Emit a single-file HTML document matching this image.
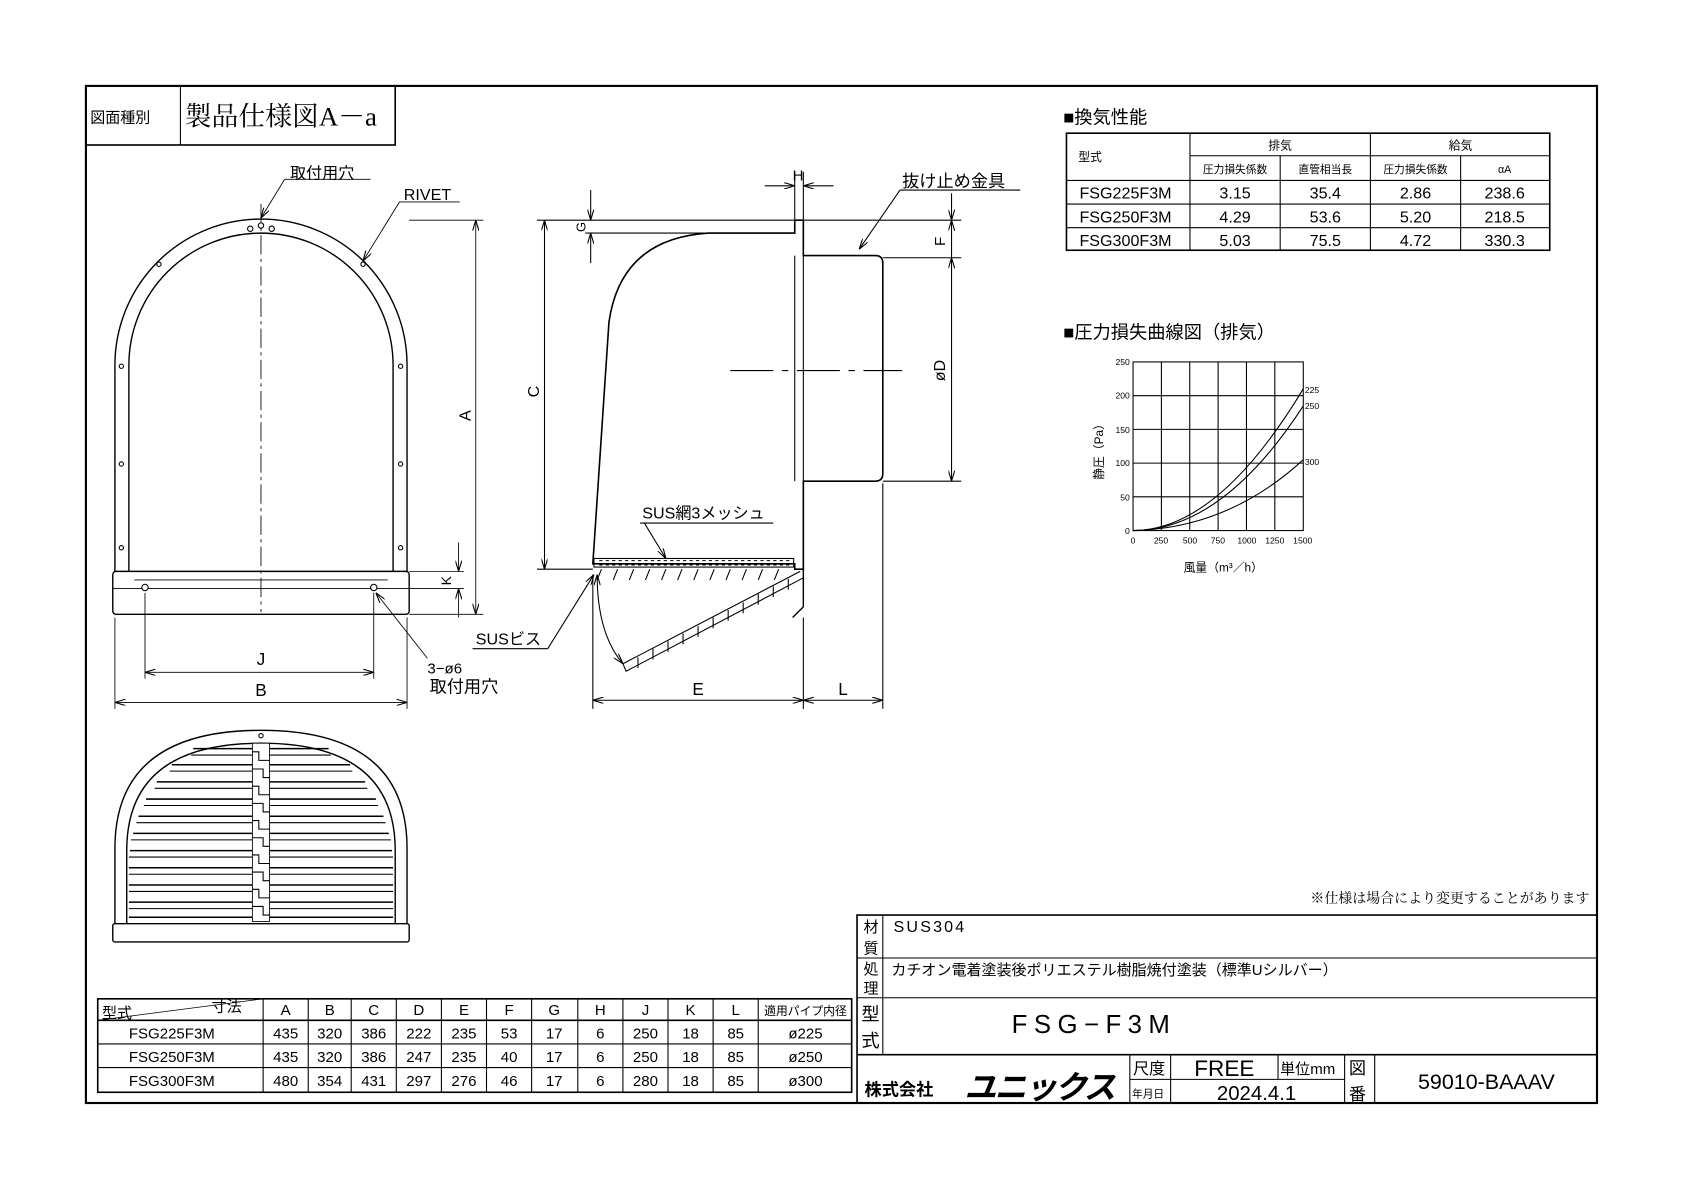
<!DOCTYPE html>
<html><head><meta charset="utf-8"><style>
html,body{margin:0;padding:0;background:#fff;}
svg{display:block;}
text{font-family:"Liberation Sans","Noto Sans CJK JP",sans-serif;fill:#000;}
.s{font-family:"Liberation Serif","Noto Serif CJK SC",serif;}
</style></head><body>
<svg width="1684" height="1190" viewBox="0 0 1568 1108" preserveAspectRatio="none" xmlns="http://www.w3.org/2000/svg">
<defs>
<marker id="ar" viewBox="0 0 10 6" refX="10" refY="3" markerWidth="10" markerHeight="6" orient="auto-start-reverse" markerUnits="userSpaceOnUse"><path d="M0,0 L10,3 L0,6" fill="none" stroke="#000" stroke-width="1"/></marker>
</defs>
<g fill="none" stroke="#000" stroke-width="1">
<rect x="80" y="80" width="1407" height="947" stroke-width="2"/>
<rect x="80" y="80" width="288" height="55" stroke-width="1.5"/>
<line x1="168" y1="80" x2="168" y2="135"/>
</g>
<text x="84" y="114" font-size="14">図面種別</text>
<text x="172" y="117" font-size="25" class="s">製品仕様図A－a</text>

<text x="990" y="115" font-size="17">■換気性能</text>
<g fill="none" stroke="#000" stroke-width="1">
<rect x="993" y="124" width="450" height="109" stroke-width="1.5"/>
<line x1="1108" y1="124" x2="1108" y2="233"/>
<line x1="1276" y1="124" x2="1276" y2="233"/>
<line x1="1192" y1="145" x2="1192" y2="233"/>
<line x1="1360" y1="145" x2="1360" y2="233"/>
<line x1="1108" y1="145" x2="1443" y2="145"/>
<line x1="993" y1="168" x2="1443" y2="168"/>
<line x1="993" y1="190" x2="1443" y2="190"/>
<line x1="993" y1="212" x2="1443" y2="212"/>
</g>
<g font-size="11" text-anchor="middle">
<text x="1015" y="150">型式</text>
<text x="1192" y="139">排気</text><text x="1360" y="139">給気</text>
<text x="1150" y="161" font-size="10">圧力損失係数</text><text x="1234" y="161" font-size="10">直管相当長</text>
<text x="1318" y="161" font-size="10">圧力損失係数</text><text x="1401" y="161" font-size="10">αA</text>
</g>
<g font-size="15" text-anchor="middle" font-family="Liberation Mono">
<text x="1048" y="185">FSG225F3M</text><text x="1150" y="185">3.15</text><text x="1234" y="185">35.4</text><text x="1318" y="185">2.86</text><text x="1401" y="185">238.6</text>
<text x="1048" y="207">FSG250F3M</text><text x="1150" y="207">4.29</text><text x="1234" y="207">53.6</text><text x="1318" y="207">5.20</text><text x="1401" y="207">218.5</text>
<text x="1048" y="229">FSG300F3M</text><text x="1150" y="229">5.03</text><text x="1234" y="229">75.5</text><text x="1318" y="229">4.72</text><text x="1401" y="229">330.3</text>
</g>

<text x="990" y="315" font-size="17">■圧力損失曲線図（排気）</text>
<g fill="none" stroke="#000" stroke-width="1">
<rect x="1055" y="337" width="158.5" height="157"/>
<line x1="1081.4" y1="337" x2="1081.4" y2="494"/><line x1="1107.8" y1="337" x2="1107.8" y2="494"/><line x1="1134.2" y1="337" x2="1134.2" y2="494"/><line x1="1160.6" y1="337" x2="1160.6" y2="494"/><line x1="1187" y1="337" x2="1187" y2="494"/>
<line x1="1055" y1="368.4" x2="1213.5" y2="368.4"/><line x1="1055" y1="399.8" x2="1213.5" y2="399.8"/><line x1="1055" y1="431.2" x2="1213.5" y2="431.2"/><line x1="1055" y1="462.6" x2="1213.5" y2="462.6"/>
<path d="M1055,494 Q1134,494 1213.5,362"/>
<path d="M1055,494 Q1138,494 1213.5,378"/>
<path d="M1055,494 Q1144,492 1213.5,428"/>
</g>
<g font-size="8" text-anchor="end">
<text x="1052" y="340">250</text><text x="1052" y="371">200</text><text x="1052" y="403">150</text><text x="1052" y="434">100</text><text x="1052" y="466">50</text><text x="1052" y="497">0</text>
</g>
<g font-size="8" text-anchor="middle">
<text x="1055" y="506">0</text><text x="1081" y="506">250</text><text x="1108" y="506">500</text><text x="1134" y="506">750</text><text x="1161" y="506">1000</text><text x="1187" y="506">1250</text><text x="1213" y="506">1500</text>
</g>
<g font-size="8"><text x="1215" y="366">225</text><text x="1215" y="381">250</text><text x="1215" y="433">300</text></g>
<text x="1027" y="418" font-size="11" transform="rotate(-90 1027 418)" text-anchor="middle">静圧（Pa）</text>
<text x="1139" y="532" font-size="11" text-anchor="middle">風量（m³／h）</text>

<g fill="none" stroke="#000" stroke-width="1.3">
<path d="M107,532 L107,340 A136,136 0 0 1 379,340 L379,532"/>
<path d="M120,532 L120,340 A123,123 0 0 1 366,340 L366,532"/>
<rect x="105" y="532" width="276" height="40" rx="3"/>
<line x1="105" y1="548" x2="381" y2="548" stroke-width="0.8"/>
<line x1="125" y1="540" x2="361" y2="540" stroke-width="0.8"/>
</g>
<line x1="243" y1="190" x2="243" y2="570" stroke="#000" stroke-width="0.8" stroke-dasharray="18,4,3,4"/>
<g fill="#fff" stroke="#000" stroke-width="1">
<circle cx="233" cy="213" r="2.5"/><circle cx="243" cy="210" r="2.5"/><circle cx="253" cy="213" r="2.5"/>
<circle cx="148" cy="246" r="2"/><circle cx="338" cy="246" r="2"/><circle cx="113" cy="341" r="2"/><circle cx="373" cy="341" r="2"/>
<circle cx="113" cy="432" r="2"/><circle cx="373" cy="432" r="2"/><circle cx="113" cy="510" r="2"/><circle cx="373" cy="510" r="2"/>
<circle cx="135" cy="547" r="3"/><circle cx="348" cy="547" r="3"/>
</g>
<g stroke="#000" stroke-width="0.8" fill="none">
<path d="M265,167 L243,203" marker-end="url(#ar)"/><line x1="265" y1="167" x2="345" y2="167"/>
<path d="M372,188 L338,243" marker-end="url(#ar)"/><line x1="372" y1="188" x2="428" y2="188"/>
<line x1="381" y1="205" x2="450" y2="205"/><line x1="381" y1="572" x2="450" y2="572"/>
<line x1="443" y1="205" x2="443" y2="572" marker-start="url(#ar)" marker-end="url(#ar)"/>
<line x1="381" y1="532" x2="432" y2="532"/><line x1="381" y1="548" x2="432" y2="548"/>
<line x1="427" y1="505" x2="427" y2="532" marker-end="url(#ar)"/><line x1="427" y1="575" x2="427" y2="548" marker-end="url(#ar)"/>
<line x1="107" y1="575" x2="107" y2="660"/><line x1="379" y1="575" x2="379" y2="660"/>
<line x1="107" y1="654" x2="379" y2="654" marker-start="url(#ar)" marker-end="url(#ar)"/>
<line x1="135" y1="552" x2="135" y2="632"/><line x1="348" y1="552" x2="348" y2="632"/>
<line x1="135" y1="626" x2="348" y2="626" marker-start="url(#ar)" marker-end="url(#ar)"/>
<path d="M398,613 L350,552" marker-end="url(#ar)"/>
</g>
<text x="270" y="166" font-size="15">取付用穴</text>
<text x="376" y="186" font-size="15">RIVET</text>
<text x="438" y="392" font-size="15" transform="rotate(-90 438 392)">A</text>
<text x="420" y="545" font-size="13" transform="rotate(-90 420 545)">K</text>
<text x="243" y="619" font-size="16" text-anchor="middle">J</text>
<text x="243" y="648" font-size="16" text-anchor="middle">B</text>
<text x="398" y="627" font-size="14">3−ø6</text>
<text x="400" y="645" font-size="16">取付用穴</text>

<g fill="none" stroke="#000" stroke-width="1.5">
<path d="M552,525 L567,300 Q578,222 660,217 L740,217 L740,205 L748,205 L748,238 L815,238 Q822,238 822,245 L822,441 Q822,448 815,448 L748,448 L748,530 L740,530 L740,525 Z"/>
<line x1="740" y1="238" x2="740" y2="448" stroke-width="1"/>
<line x1="748" y1="238" x2="748" y2="448" stroke-width="1"/>
<rect x="553" y="520" width="186" height="8" stroke-width="1"/>
<path d="M748,530 L748,565 L738,575" stroke-width="1.3"/>
<path d="M745,532 L580,618 L583,625 L748,538" stroke-width="1"/>
</g>
<g stroke="#000" stroke-width="1" fill="none">
<path d="M558,522 h180 M558,526 h180" stroke-dasharray="3,3"/>
<path d="M560,530 l-4,10 M575,530 l-4,10 M590,530 l-4,10 M605,530 l-4,10 M620,530 l-4,10 M635,530 l-4,10 M650,530 l-4,10 M665,530 l-4,10 M680,530 l-4,10 M695,530 l-4,10 M710,530 l-4,10 M725,530 l-4,10"/>
<path d="M594,612 l0,10 M608,604 l0,10 M622,597 l0,10 M636,590 l0,10 M650,583 l0,10 M664,575 l0,10 M678,568 l0,10 M692,561 l0,10 M706,553 l0,10 M720,546 l0,10 M734,539 l0,10"/>
<path d="M556,535 Q556,590 580,618" marker-start="url(#ar)" marker-end="url(#ar)"/>
<line x1="680" y1="345" x2="840" y2="345" stroke-dasharray="40,8,6,8"/>
<line x1="500" y1="205" x2="740" y2="205"/><line x1="500" y1="530" x2="552" y2="530"/>
<line x1="507" y1="205" x2="507" y2="530" marker-start="url(#ar)" marker-end="url(#ar)"/>
<line x1="545" y1="217" x2="740" y2="217"/>
<line x1="550" y1="177" x2="550" y2="205" marker-end="url(#ar)"/><line x1="550" y1="245" x2="550" y2="217" marker-end="url(#ar)"/>
<line x1="740" y1="160" x2="740" y2="205"/><line x1="748" y1="160" x2="748" y2="205"/>
<line x1="712" y1="173" x2="740" y2="173" marker-end="url(#ar)"/><line x1="776" y1="173" x2="748" y2="173" marker-end="url(#ar)"/>
<line x1="748" y1="205" x2="895" y2="205"/><line x1="822" y1="240" x2="895" y2="240"/><line x1="822" y1="448" x2="895" y2="448"/>
<line x1="886" y1="180" x2="886" y2="205" marker-end="url(#ar)"/><line x1="886" y1="240" x2="886" y2="205" marker-end="url(#ar)"/>
<line x1="886" y1="240" x2="886" y2="448" marker-start="url(#ar)" marker-end="url(#ar)"/>
<path d="M838,177 L800,232" marker-end="url(#ar)"/><line x1="838" y1="177" x2="950" y2="177"/>
<line x1="552" y1="535" x2="552" y2="660"/><line x1="748" y1="575" x2="748" y2="660"/><line x1="822" y1="450" x2="822" y2="660"/>
<line x1="552" y1="652" x2="748" y2="652" marker-start="url(#ar)" marker-end="url(#ar)"/>
<line x1="748" y1="652" x2="822" y2="652" marker-start="url(#ar)" marker-end="url(#ar)"/>
<path d="M510,604 L553,535" marker-end="url(#ar)"/><line x1="440" y1="604" x2="510" y2="604"/>
<path d="M600,487 L620,520" marker-end="url(#ar)"/><line x1="596" y1="487" x2="720" y2="487"/>
</g>
<text x="502" y="370" font-size="15" transform="rotate(-90 502 370)">C</text>
<text x="545" y="216" font-size="12" transform="rotate(-90 545 216)">G</text>
<text x="738" y="168" font-size="14">H</text>
<text x="880" y="229" font-size="14" transform="rotate(-90 880 229)">F</text>
<text x="880" y="355" font-size="15" transform="rotate(-90 880 355)">øD</text>
<text x="840" y="174" font-size="16">抜け止め金具</text>
<text x="598" y="483" font-size="15">SUS網3メッシュ</text>
<text x="443" y="600" font-size="15">SUSビス</text>
<text x="650" y="647" font-size="16" text-anchor="middle">E</text>
<text x="785" y="647" font-size="16" text-anchor="middle">L</text>

<g fill="none" stroke="#000" stroke-width="1.3">
<path d="M107,860 L107,790 Q107,680 243,680 Q379,680 379,790 L379,860"/>
<path d="M118,860 L118,792 Q118,692 243,692 Q368,692 368,792 L368,860"/>
<rect x="105" y="860" width="276" height="17" rx="2"/>
</g>
<g stroke="#000" stroke-width="1.4" fill="none">
<path d="M180,697 H306 M160,712 H326 M146,728 H340 M136,744 H350 M129,760 H357 M124,776 H362 M121,792 H365 M120,808 H366 M120,824 H366 M120,840 H366 M120,854 H366"/>
<path d="M178,703 H308 M158,718 H328 M144,734 H342 M134,750 H352 M127,766 H359 M122,782 H364 M120,798 H366 M120,814 H366 M120,830 H366 M120,846 H366" stroke-width="1"/>
</g>
<g fill="#fff" stroke="#000">
<rect x="235" y="692" width="16" height="166" stroke-width="0.8"/>
</g>
<path d="M235,700 h6 v8 h10 M235,716 h10 v8 h6 M235,732 h6 v8 h10 M235,748 h10 v8 h6 M235,764 h6 v8 h10 M235,780 h10 v8 h6 M235,796 h6 v8 h10 M235,812 h10 v8 h6 M235,828 h6 v8 h10 M235,844 h10 v8 h6" stroke="#000" fill="none"/>
<circle cx="243" cy="685" r="2" fill="none" stroke="#000"/>

<g fill="none" stroke="#000" stroke-width="1">
<rect x="91" y="930" width="702" height="87" stroke-width="1.5"/>
<line x1="91" y1="950" x2="793" y2="950" stroke-width="1.5"/>
<line x1="91" y1="972" x2="793" y2="972"/><line x1="91" y1="994" x2="793" y2="994"/>
<path d="M245,930V1017 M287,930V1017 M327,930V1017 M369,930V1017 M411,930V1017 M453,930V1017 M495,930V1017 M538,930V1017 M580,930V1017 M622,930V1017 M664,930V1017 M706,930V1017"/>
<line x1="91" y1="950" x2="245" y2="930" stroke-width="0.7"/>
</g>
<text x="95" y="948" font-size="14">型式</text><text x="197" y="942" font-size="14">寸法</text>
<g font-size="14" text-anchor="middle" font-family="Liberation Mono">
<text x="266" y="945">A</text><text x="307" y="945">B</text><text x="348" y="945">C</text><text x="390" y="945">D</text><text x="432" y="945">E</text><text x="474" y="945">F</text><text x="516" y="945">G</text><text x="559" y="945">H</text><text x="601" y="945">J</text><text x="643" y="945">K</text><text x="685" y="945">L</text>
<text x="750" y="945" font-size="11" font-family="Liberation Sans,Noto Sans CJK JP">適用パイプ内径</text>
<text x="160" y="967">FSG225F3M</text><text x="266" y="967">435</text><text x="307" y="967">320</text><text x="348" y="967">386</text><text x="390" y="967">222</text><text x="432" y="967">235</text><text x="474" y="967">53</text><text x="516" y="967">17</text><text x="559" y="967">6</text><text x="601" y="967">250</text><text x="643" y="967">18</text><text x="685" y="967">85</text><text x="750" y="967">ø225</text>
<text x="160" y="989">FSG250F3M</text><text x="266" y="989">435</text><text x="307" y="989">320</text><text x="348" y="989">386</text><text x="390" y="989">247</text><text x="432" y="989">235</text><text x="474" y="989">40</text><text x="516" y="989">17</text><text x="559" y="989">6</text><text x="601" y="989">250</text><text x="643" y="989">18</text><text x="685" y="989">85</text><text x="750" y="989">ø250</text>
<text x="160" y="1011">FSG300F3M</text><text x="266" y="1011">480</text><text x="307" y="1011">354</text><text x="348" y="1011">431</text><text x="390" y="1011">297</text><text x="432" y="1011">276</text><text x="474" y="1011">46</text><text x="516" y="1011">17</text><text x="559" y="1011">6</text><text x="601" y="1011">280</text><text x="643" y="1011">18</text><text x="685" y="1011">85</text><text x="750" y="1011">ø300</text>
</g>

<text x="1480" y="841" font-size="13" text-anchor="end" class="s">※仕様は場合により変更することがあります</text>
<g fill="none" stroke="#000" stroke-width="1.5">
<rect x="798" y="852" width="689" height="175"/>
<line x1="822" y1="852" x2="822" y2="982" stroke-width="1"/>
<line x1="798" y1="892" x2="1487" y2="892" stroke-width="1"/>
<line x1="798" y1="929" x2="1487" y2="929" stroke-width="1"/>
<line x1="798" y1="982" x2="1487" y2="982"/>
<path d="M1052,982V1027 M1090,982V1027 M1190,982V1005 M1252,982V1027 M1280,982V1027" stroke-width="1"/>
<line x1="1052" y1="1005" x2="1252" y2="1005" stroke-width="1"/>
</g>
<g font-size="14" class="s"><text x="804" y="868">材</text><text x="804" y="888">質</text><text x="804" y="907">処</text><text x="804" y="925">理</text><text x="802" y="950" font-size="17">型</text><text x="802" y="975" font-size="17">式</text>
<text x="1055" y="1000" font-size="15">尺度</text><text x="1192" y="1000" font-size="14">単位mm</text><text x="1256" y="1000" font-size="16">図</text><text x="1256" y="1024" font-size="16">番</text><text x="1054" y="1022" font-size="10">年月日</text></g>
<text x="832" y="868" font-size="15" letter-spacing="2">SUS304</text>
<text x="830" y="908" font-size="14">カチオン電着塗装後ポリエステル樹脂焼付塗装（標準Uシルバー）</text>
<text x="942" y="962" font-size="24" letter-spacing="6">FSG−F3M</text>
<text x="1140" y="1002" font-size="21" text-anchor="middle">FREE</text>
<text x="1170" y="1024" font-size="19" text-anchor="middle">2024.4.1</text>
<text x="1384" y="1014" font-size="20" text-anchor="middle">59010-BAAAV</text>
<text x="805" y="1020" font-size="16" font-weight="bold">株式会社</text>
<text x="898" y="1023" font-size="30" font-weight="bold" font-style="italic" letter-spacing="-2">ユニックス</text>
</svg>
</body></html>
